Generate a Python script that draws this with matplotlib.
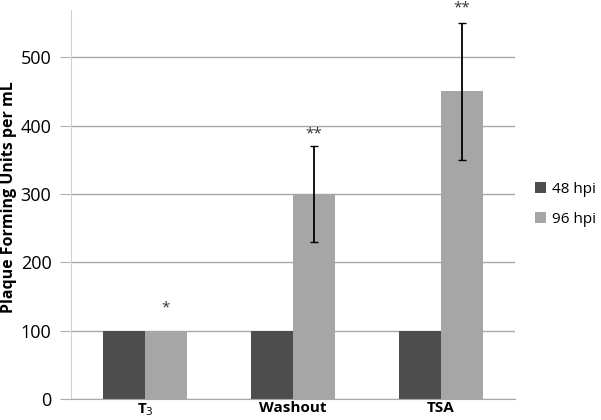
import matplotlib
matplotlib.use("Agg")
from matplotlib import pyplot as plt
import numpy as np

plt.rcParams['font.family'] = ['Open Sans', 'DejaVu Sans']

groups = ["T$_3$", "Washout", "TSA"]
hpi48 = [100, 100, 100]
hpi96 = [100, 300, 450]
err96 = [0, 70, 100]
stars = ["*", "**", "**"]
star_y = [133, 388, 572]

fig, ax = plt.subplots(figsize=(6.01, 4.2), dpi=100)
fig.subplots_adjust(left=0.118, right=0.857, top=0.976, bottom=0.05)

x = np.arange(len(groups))
w = 0.284
ax.bar(x - w / 2, hpi48, w, color='#4d4d4d', label='48 hpi')
ax.bar(x + w / 2, hpi96, w, color='#a6a6a6', label='96 hpi')
ax.errorbar(x[1:] + w / 2, hpi96[1:], yerr=err96[1:], fmt='none',
            ecolor='black', elinewidth=1.3, capsize=3, capthick=1)
for xi, s, sy in zip(x, stars, star_y):
    ax.text(xi + w / 2, sy, s, ha='center', va='center', fontsize=11,
            color='#333333', clip_on=False)

ax.set_xlim(-0.5, 2.5)
ax.set_ylim(0, 569)
ax.set_yticks([0, 100, 200, 300, 400, 500])
ax.set_xticks(x)
ax.set_xticklabels(groups, fontweight='bold', fontsize=11)
ax.tick_params(axis='y', labelsize=13, length=8, color='#b0b0b0', pad=6)
ax.tick_params(axis='x', length=0, pad=1.5)
ax.yaxis.grid(True, color='#a8a8a8', linewidth=1)
ax.set_axisbelow(True)
for side in ['top', 'right']:
    ax.spines[side].set_visible(False)
ax.spines['left'].set_color('#d0d0d0')
ax.spines['bottom'].set_color('#a8a8a8')
ax.set_ylabel("Plaque Forming Units per mL", fontweight='bold', fontsize=11.5)
ax.yaxis.set_label_coords(-0.122, 0.52)

ax.legend(loc='center left', bbox_to_anchor=(1.015, 0.5), frameon=False,
          fontsize=11, handlelength=0.7, handleheight=0.7, handletextpad=0.35,
          labelspacing=1.0)

fig.savefig("out.png", dpi=100)
